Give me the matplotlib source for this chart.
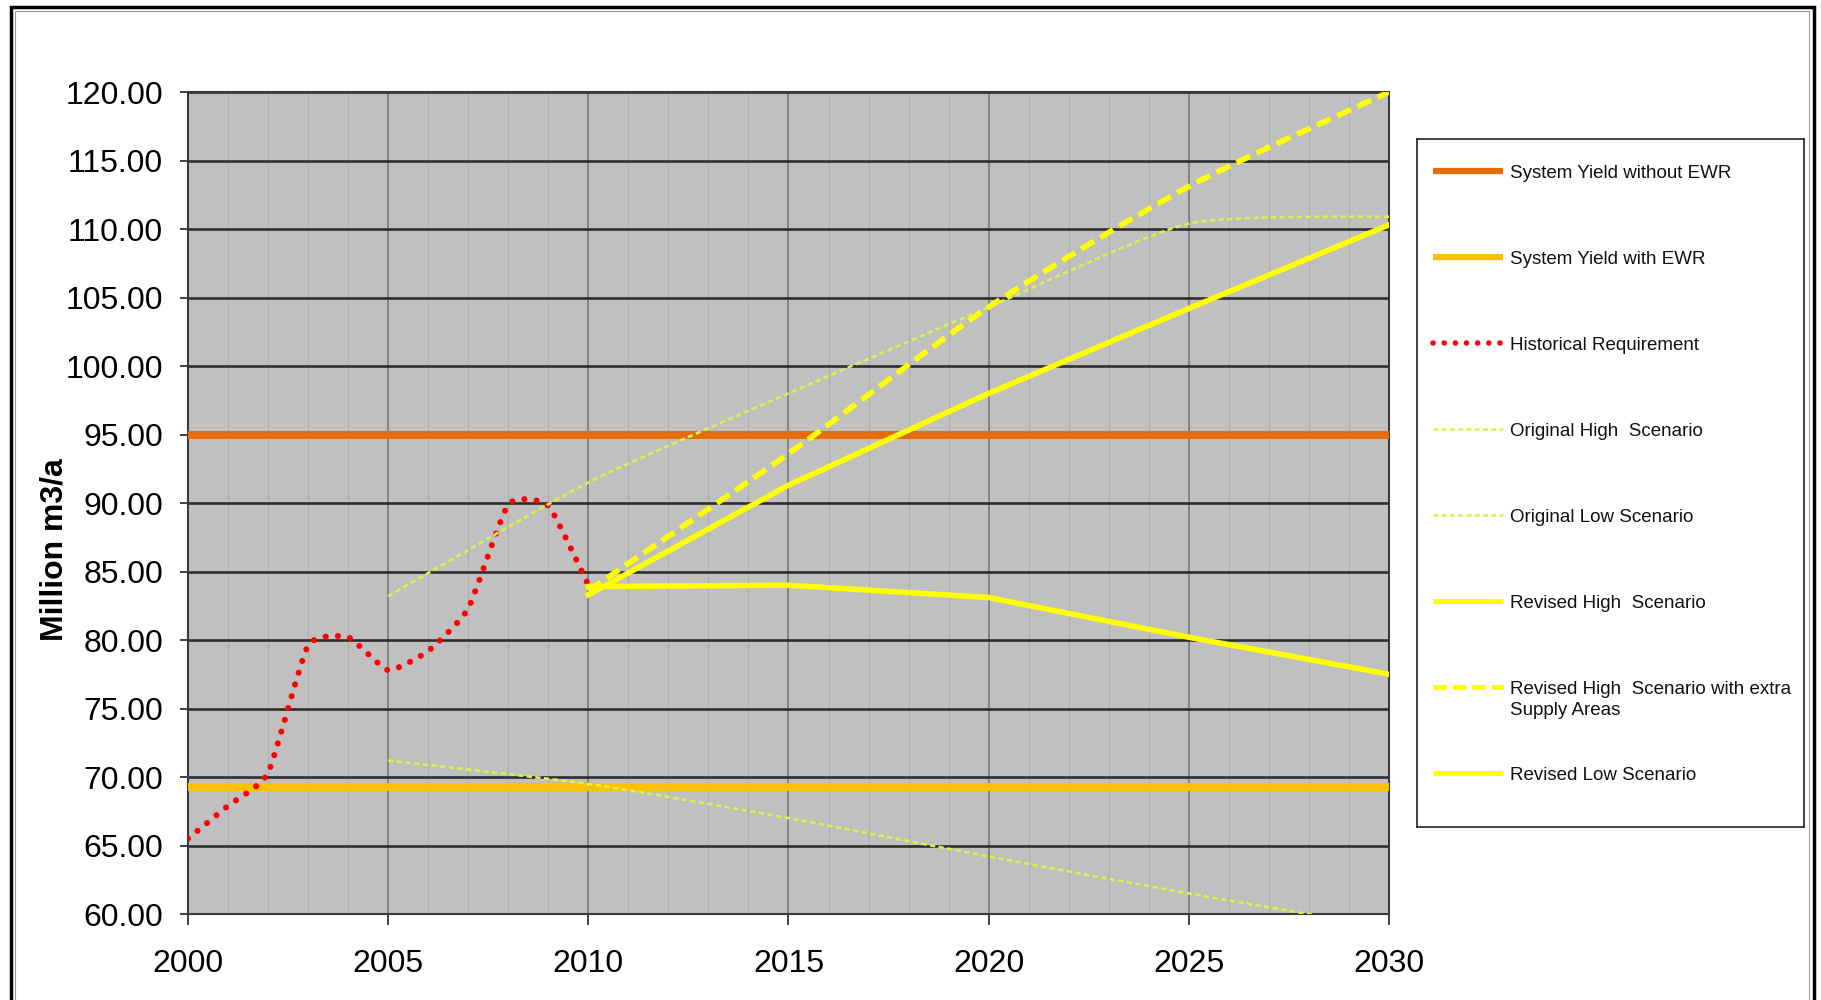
import numpy as np
import matplotlib.pyplot as plt
from matplotlib.path import Path
from matplotlib.patches import PathPatch, Rectangle

plt.rcParams['font.family'] = ['Liberation Sans', 'DejaVu Sans']

# Yearly requirement and scenario projections (million m3/a)
years_hist = [2000, 2001, 2002, 2003, 2004, 2005, 2006, 2007, 2008, 2009, 2010]
hist_req = [65.5, 67.9, 70.3, 79.6, 80.2, 77.8, 79.2, 82.3, 89.9, 89.8, 84.0]

years_orig = [2005, 2010, 2015, 2020, 2025, 2030]
orig_high = [83.2, 91.5, 98.0, 104.3, 110.4, 110.9]
orig_low = [71.2, 69.5, 67.0, 64.2, 61.5, 59.0]

years_rev = [2010, 2015, 2020, 2025, 2030]
rev_high = [83.3, 91.3, 98.0, 104.2, 110.3]
rev_high_extra = [83.6, 93.6, 104.3, 113.1, 120.0]
rev_low = [83.9, 84.0, 83.1, 80.2, 77.5]

yield_years = [2000, 2030]
yield_no_ewr = [95.0, 95.0]
yield_ewr = [69.3, 69.3]

labels = ['System Yield without EWR', 'System Yield with EWR',
          'Historical Requirement', 'Original High  Scenario',
          'Original Low Scenario', 'Revised High  Scenario',
          'Revised High  Scenario with extra\nSupply Areas',
          'Revised Low Scenario']

orange = '#E46C0A'
gold = '#FFC000'
red = '#FF0000'
pale = '#DFF04A'
yellow = '#FFFF00'

dots = (0, (0.01, 2.0))
fine_dash = (0, (2.0, 1.3))
bold_dash = (0, (2.7, 1.3))


def smooth_path(xs, ys, tension=6.0):
    """Bezier path through the points, spreadsheet-style smoothing."""
    pts = np.column_stack([xs, ys]).astype(float)
    n = len(pts)
    verts = [pts[0]]
    codes = [Path.MOVETO]
    for i in range(n - 1):
        p0 = pts[max(i - 1, 0)]
        p1 = pts[i]
        p2 = pts[i + 1]
        p3 = pts[min(i + 2, n - 1)]
        verts += [p1 + (p2 - p0) / tension, p2 - (p3 - p1) / tension, p2]
        codes += [Path.CURVE4] * 3
    return Path(verts, codes)


def add_smooth(ax, xs, ys, tension=6.0, **kw):
    patch = PathPatch(smooth_path(xs, ys, tension), fill=False, **kw)
    ax.add_patch(patch)
    return patch


fig = plt.figure(figsize=(18.21, 10.0), dpi=100)
ax = fig.add_axes([188 / 1821, 0.086, 1201 / 1821, 0.822])
ax.set_facecolor('#C0C0C0')

ax.plot(yield_years, yield_no_ewr, color=orange, lw=5.8, solid_capstyle='butt', zorder=3)
ax.plot(yield_years, yield_ewr, color=gold, lw=5.8, solid_capstyle='butt', zorder=3)

add_smooth(ax, years_hist, hist_req, tension=12.0, edgecolor=red, lw=4.4,
           linestyle=dots, capstyle='round', zorder=4)
add_smooth(ax, years_orig, orig_high, tension=10.0, edgecolor=pale, lw=1.9,
           linestyle=fine_dash, zorder=4)
add_smooth(ax, years_orig, orig_low, tension=10.0, edgecolor=pale, lw=1.9,
           linestyle=fine_dash, zorder=4)
add_smooth(ax, years_rev, rev_high_extra, tension=8.0, edgecolor=yellow, lw=4.0,
           linestyle=bold_dash, zorder=5)
ax.plot(years_rev, rev_high, color=yellow, lw=4.0, zorder=5)
ax.plot(years_rev, rev_low, color=yellow, lw=4.0, zorder=5)

ax.set_xlim(2000, 2030)
ax.set_ylim(60, 120)
ax.set_xticks(range(2000, 2031, 5))
ax.set_xticks(range(2000, 2031), minor=True)
ax.set_yticks(np.arange(60, 121, 5))
ax.yaxis.set_major_formatter(plt.FormatStrFormatter('%.2f'))

ax.set_axisbelow(True)
ax.grid(which='minor', axis='x', color='#AFAFAF', lw=0.9)
ax.grid(which='major', axis='x', color='#7A7A7A', lw=1.2)
ax.grid(which='major', axis='y', color='#2E2E2E', lw=1.9)

ax.tick_params(which='minor', length=0)
ax.tick_params(axis='y', which='major', length=6, width=1.3, color='#333333',
               pad=12, labelsize=23)
ax.tick_params(axis='x', which='major', length=8, width=1.3, color='#333333',
               pad=17, labelsize=23)
for sp in ax.spines.values():
    sp.set_color('#3A3A3A')
    sp.set_linewidth(1.5)

ax.set_ylabel('Million m3/a', fontsize=23, fontweight='bold', va='center')
ax.yaxis.set_label_coords(-0.111, 0.443)

# legend box, laid out in pixel units from its top-left corner
lax = fig.add_axes([1417 / 1821, 1 - 827 / 1000, 387 / 1821, 688 / 1000])
lax.set_xlim(0, 387)
lax.set_ylim(688, 0)
lax.set_xticks([])
lax.set_yticks([])
for sp in lax.spines.values():
    sp.set_color('#222222')
    sp.set_linewidth(1.2)

styles = [
    dict(color=orange, lw=4.5),
    dict(color=gold, lw=4.5),
    dict(color=red, lw=4.0, linestyle=dots, dash_capstyle='round'),
    dict(color=pale, lw=1.8, linestyle=fine_dash),
    dict(color=pale, lw=1.8, linestyle=fine_dash),
    dict(color=yellow, lw=3.5),
    dict(color=yellow, lw=3.5, linestyle=bold_dash),
    dict(color=yellow, lw=3.5),
]
for i, (lab, st) in enumerate(zip(labels, styles)):
    y = 31.7 + 86.0 * i
    lax.plot([16, 86], [y, y], solid_capstyle='butt', **st)
    lax.text(93, y - 6.0, lab, fontsize=13.5, va='top', ha='left',
             linespacing=1.35, color='#111111')

# outer frame
fig.patches.append(Rectangle((0.006, -0.01), 0.99, 1.003, transform=fig.transFigure,
                             fill=False, ec='black', lw=2.5))
fig.patches.append(Rectangle((0.0085, -0.01), 0.985, 0.999, transform=fig.transFigure,
                             fill=False, ec='#999999', lw=0.8))

fig.savefig('out.png', dpi=100)
